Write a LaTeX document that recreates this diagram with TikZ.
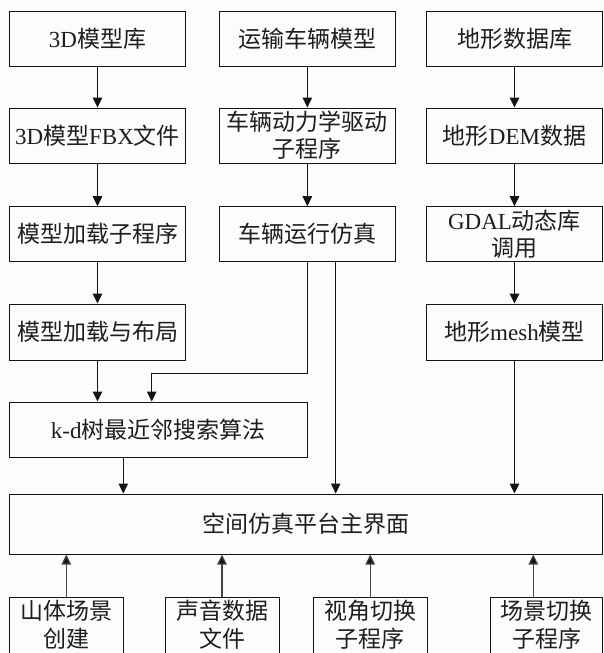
\documentclass[tikz,border=0pt]{standalone}
\usepackage{fontspec}
\setmainfont{Liberation Serif}
\newfontfamily\cjkf{Noto Sans CJK SC}
\usetikzlibrary{arrows.meta,calc}
\newcommand\zh[1]{{\cjkf #1}}
\definecolor{bgc}{RGB}{252,252,252}
\definecolor{linec}{RGB}{20,20,20}
\definecolor{upc}{RGB}{70,70,70}
\definecolor{txtc}{RGB}{30,30,30}
\begin{document}
\begin{tikzpicture}[x=1pt,y=-1pt,
  box/.style={draw=linec, line width=1pt, rectangle, inner sep=0pt, align=center,
    text=txtc, font=\fontsize{23}{27}\selectfont},
  txt/.style={inner sep=0pt, align=center, text=txtc, font=\fontsize{23}{28}\selectfont},
  arr/.style={draw=linec, line width=1pt, -{Triangle[width=9.5pt,length=10pt]}},
  uparr/.style={draw=upc, line width=1.2pt, -{Triangle[width=9.5pt,length=10pt,fill=linec]}},
]
\useasboundingbox (0,0) rectangle (603,653);
\fill[bgc] (0,0) rectangle (603,653);

% column 1
\node[box, minimum width=176.4, minimum height=55] (a1) at (97.5,39.2) {3D\zh{模型库}};
\node[box, minimum width=176.4, minimum height=55] (a2) at (97.5,135.5) {3D\zh{模型}FBX\zh{文件}};
\node[box, minimum width=176.4, minimum height=55] (a3) at (97.5,234.2) {\zh{模型加载子程序}};
\node[box, minimum width=176.4, minimum height=56] (a4) at (97.5,332) {\zh{模型加载与布局}};

% column 2
\node[box, minimum width=176.7, minimum height=55] (b1) at (307.35,39.2) {\zh{运输车辆模型}};
\node[box, minimum width=176.7, minimum height=55] (b2) at (307.35,135.5) {\zh{车辆动力学驱动}\\\zh{子程序}};
\node[box, minimum width=176.7, minimum height=55] (b3) at (307.35,234.2) {\zh{车辆运行仿真}};

% column 3
\node[box, minimum width=176, minimum height=55] (c1) at (514.5,39.2) {\zh{地形数据库}};
\node[box, minimum width=176, minimum height=55] (c2) at (514.5,135.5) {\zh{地形}DEM\zh{数据}};
\node[box, minimum width=176, minimum height=55] (c3) at (514.5,234.2) {GDAL\zh{动态库}\\\zh{调用}};
\node[box, minimum width=176, minimum height=56] (c4) at (514.5,332) {\zh{地形}mesh\zh{模型}};

% k-d and main
\node[box, minimum width=298, minimum height=55] (kd) at (158.3,429.5) {k-d\zh{树最近邻搜索算法}};
\node[box, minimum width=593.2, minimum height=60] (main) at (305.9,524) {\zh{空间仿真平台主界面}};

% bottom boxes (cut by the page edge)
\node[box, minimum width=114, minimum height=68] (d1) at (66.3,631) {};
\node[box, minimum width=114, minimum height=68] (d2) at (222,631) {};
\node[box, minimum width=113.7, minimum height=68] (d3) at (370.2,631) {};
\node[box, minimum width=111.5, minimum height=68] (d4) at (546.7,631) {};
\node[txt] (d1t) at (66.5,624.5) {\zh{山体场景}\\\zh{创建}};
\node[txt] (d2t) at (222,624.5) {\zh{声音数据}\\\zh{文件}};
\node[txt] (d3t) at (370.2,624.5) {\zh{视角切换}\\\zh{子程序}};
\node[txt] (d4t) at (546.5,624.5) {\zh{场景切换}\\\zh{子程序}};

% helper coordinates
\coordinate (bend) at (151.7,373);
\coordinate (xs2) at (335.7,0);
\coordinate (xk) at (123.3,0);
\coordinate (xd4) at (533.3,0);

% vertical flow
\draw[arr] (a1) -- (a2);
\draw[arr] (a2) -- (a3);
\draw[arr] (a3) -- (a4);
\draw[arr] (a4.south) -- (a4.south |- kd.north);
\draw[arr] (b1) -- (b2);
\draw[arr] (b2) -- (b3);
\draw[arr] (b3.south) |- (bend) -- (bend |- kd.north);
\draw[arr] (b3.south -| xs2) -- (main.north -| xs2);
\draw[arr] (c1) -- (c2);
\draw[arr] (c2) -- (c3);
\draw[arr] (c3) -- (c4);
\draw[arr] (c4.south) -- (c4.south |- main.north);
\draw[arr] (kd.south -| xk) -- (main.north -| xk);

% bottom up arrows
\draw[uparr] (d1.north) -- (d1.north |- main.south);
\draw[uparr] (d2.north) -- (d2.north |- main.south);
\draw[uparr] (d3.north) -- (d3.north |- main.south);
\draw[uparr] (d4.north -| xd4) -- (main.south -| xd4);
\end{tikzpicture}
\end{document}
